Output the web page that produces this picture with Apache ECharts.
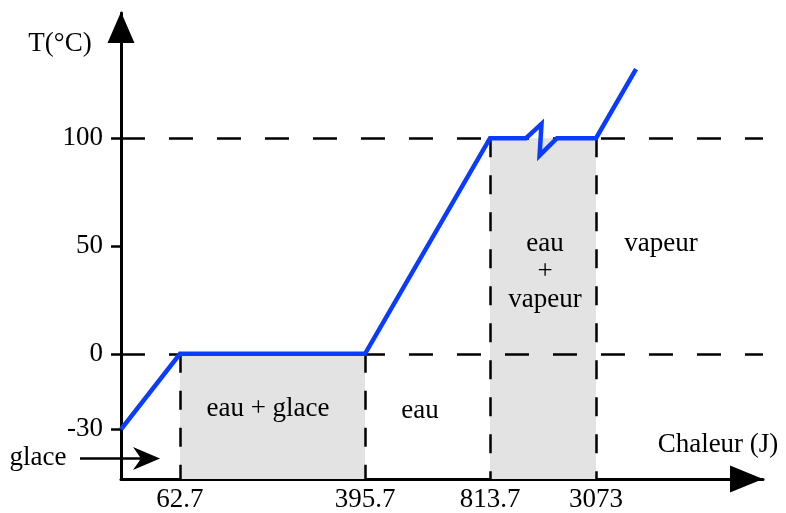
<!DOCTYPE html>
<html>
<head>
<meta charset="utf-8">
<script src="https://cdn.jsdelivr.net/npm/echarts@6/dist/echarts.min.js"></script>
<style>
html,body{margin:0;padding:0;background:#fff;}
#chart{width:786px;height:513px;}
</style>
</head>
<body>
<div id="chart"></div>
<script>
// ---- data (diagram is schematic: x positions are not to scale) ----
const heatTickLabels = ['62.7', '395.7', '813.7', '3073'];
const heatTickPos = [9.19, 38.01, 57.48, 73.99];
const tempTicks = [-30, 0, 50, 100];
const curveX = [0, 9.19, 38.01, 57.48, 63.08, 65.5, 65.2, 67.91, 73.99, 80.22];
const curveT = [-30, 0, 0, 100, 100, 106.6, 92, 100, 100, 132];
const phaseLabels = ['eau + glace', 'eau', 'eau\n+\nvapeur', 'vapeur', 'glace'];

// sub-zero part of the temperature axis is drawn stretched in the original
function yDisp(t) { return t < 0 ? t * 35 / 30 : t; }

const Y_MIN = -58, Y_MAX = 158;
const FONT = '"Liberation Serif", "Times New Roman", serif';
const tempTickPos = tempTicks.map(yDisp);

const curve = curveX.map((x, i) => [x, yDisp(curveT[i])]);

const hDash = { color: '#000', width: 2.5, type: [24, 24] };
const vDash = { color: '#000', width: 2.5, type: [19, 18] };

const markLines = [
  [{ coord: [0, 0], lineStyle: hDash }, { coord: [100, 0] }],
  [{ coord: [0, 100], lineStyle: hDash }, { coord: [100, 100] }],
  [{ coord: [heatTickPos[0], 0], lineStyle: vDash }, { coord: [heatTickPos[0], Y_MIN] }],
  [{ coord: [heatTickPos[1], 0], lineStyle: vDash }, { coord: [heatTickPos[1], Y_MIN] }],
  [{ coord: [heatTickPos[2], 100], lineStyle: vDash }, { coord: [heatTickPos[2], Y_MIN] }],
  [{ coord: [heatTickPos[3], 100], lineStyle: vDash }, { coord: [heatTickPos[3], Y_MIN] }]
];

const markAreas = [
  [{ coord: [heatTickPos[0], 0] }, { coord: [heatTickPos[1], Y_MIN] }],
  [{ coord: [heatTickPos[2], 100] }, { coord: [heatTickPos[3], Y_MIN] }]
];

function txt(text, x, y, align) {
  return {
    type: 'text', x: x, y: y, z: 10, silent: true,
    style: { text: text, fill: '#000', font: '27px ' + FONT, textAlign: align || 'center', textVerticalAlign: 'middle', lineHeight: 28 }
  };
}

const chart = echarts.init(document.getElementById('chart'), null, { renderer: 'canvas' });
chart.setOption({
  animation: false,
  backgroundColor: '#fff',
  grid: { left: 121, right: 23, top: 13, bottom: 33, containLabel: false },
  xAxis: {
    type: 'value', min: 0, max: 100,
    axisLine: { show: true, onZero: false, lineStyle: { color: '#000', width: 3 }, symbol: ['none', 'triangle'], symbolSize: [27, 33], symbolOffset: [0, -16.5] },
    axisTick: { show: false },
    splitLine: { show: false },
    axisLabel: {
      customValues: heatTickPos,
      formatter: v => { const i = heatTickPos.findIndex(p => Math.abs(p - v) < 1e-6); return i >= 0 ? heatTickLabels[i] : ''; },
      color: '#000', fontFamily: FONT, fontSize: 27, margin: 7
    }
  },
  yAxis: {
    type: 'value', min: Y_MIN, max: Y_MAX,
    axisLine: { show: true, onZero: false, lineStyle: { color: '#000', width: 3 }, symbol: ['none', 'triangle'], symbolSize: [27, 31], symbolOffset: [0, -14.5] },
    axisTick: { show: true, customValues: tempTickPos, length: 10, lineStyle: { color: '#000', width: 2.5 } },
    splitLine: { show: false },
    axisLabel: {
      customValues: tempTickPos,
      formatter: v => { const i = tempTickPos.findIndex(p => Math.abs(p - v) < 1e-6); return i >= 0 ? String(tempTicks[i]) : ''; },
      color: '#000', fontFamily: FONT, fontSize: 27, margin: 18
    }
  },
  series: [
    {
      type: 'line', z: 1, data: [], silent: true,
      markArea: { silent: true, itemStyle: { color: '#e3e3e3' }, label: { show: false }, data: markAreas },
      markLine: { silent: true, symbol: ['none', 'none'], label: { show: false }, data: markLines, animation: false }
    },
    {
      type: 'line', z: 5, data: curve, showSymbol: false, clip: false, silent: true,
      lineStyle: { color: '#0a3cff', width: 4.5, join: 'miter', cap: 'butt' }
    }
  ],
  graphic: [
    txt('T(°C)', 60, 44),
    txt('Chaleur (J)', 718, 445),
    txt(phaseLabels[4], 38, 457.5),
    txt(phaseLabels[0], 268, 409),
    txt(phaseLabels[1], 420, 411),
    txt(phaseLabels[2], 545, 272),
    txt(phaseLabels[3], 661, 244),
    { type: 'line', silent: true, z: 10, shape: { x1: 80, y1: 458.5, x2: 148, y2: 458.5 }, style: { stroke: '#000', lineWidth: 2.5 } },
    { type: 'polygon', silent: true, z: 10, shape: { points: [[160, 458.5], [133, 447], [141, 458.5], [133, 470]] }, style: { fill: '#000' } }
  ]
});
</script>
</body>
</html>
